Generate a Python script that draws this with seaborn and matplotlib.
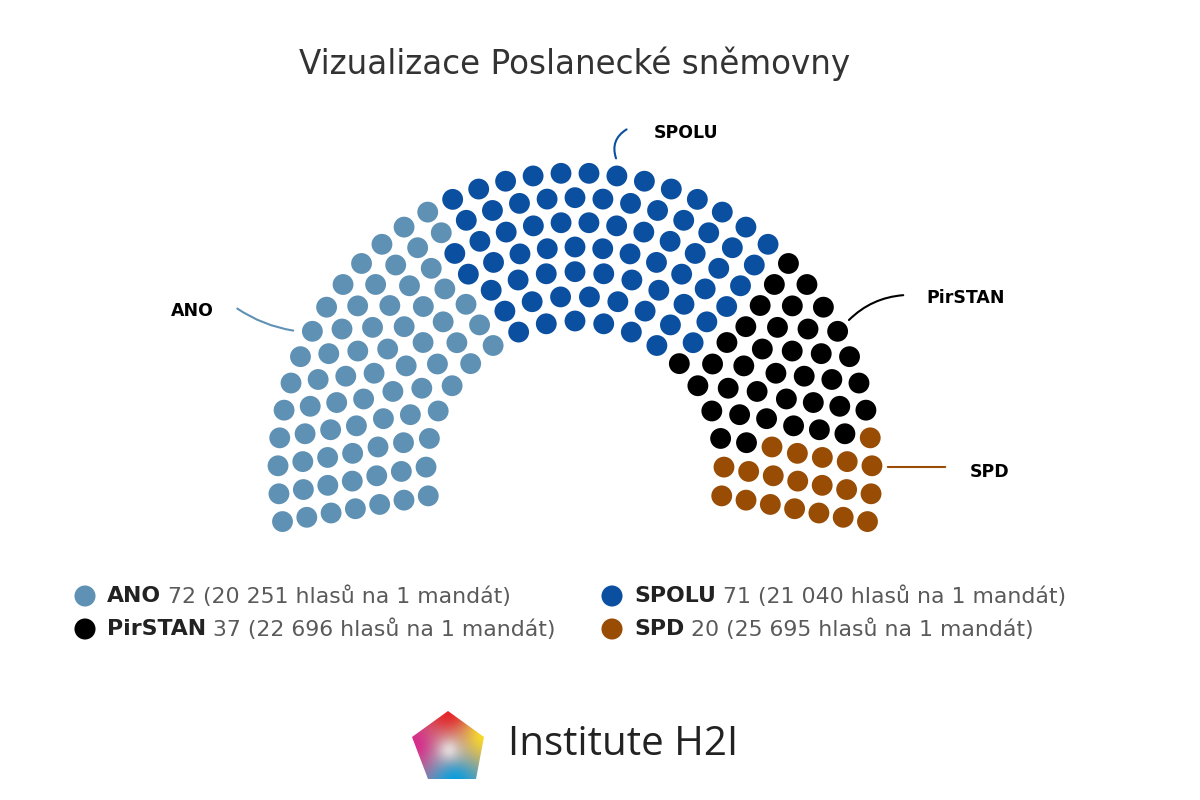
import numpy as np
import pandas as pd
import matplotlib.pyplot as plt
import seaborn as sns
from matplotlib.patches import Polygon

# Poslanecká sněmovna 2021, 200 mandátů
parties = ['ANO', 'SPOLU', 'PirSTAN', 'SPD']
seats = [72, 71, 37, 20]
votes_per_seat = ['20 251', '21 040', '22 696', '25 695']
colors = ['#5f91b4', '#0b4fa1', '#000000', '#994c03']


def seat_layout(total, n_rows=7, r_in=149, r_out=297, start=190, end=-10):
    radii = np.linspace(r_in, r_out, n_rows)
    share = radii / radii.sum() * total
    counts = np.floor(share).astype(int)
    rest = total - counts.sum()
    order = np.argsort(-(share - counts))
    counts[order[:rest]] += 1
    pts = []
    for r, n in zip(radii, counts):
        for a in np.linspace(start, end, n):
            pts.append((r, a))
    pts = pd.DataFrame(pts, columns=['r', 'angle'])
    # po uhlu zleva doprava
    pts = pts.sort_values(['angle', 'r'], ascending=[False, True]).reset_index(drop=True)
    return pts


def main():
    sns.set_theme(style='white')
    plt.rcParams['font.family'] = ['DejaVu Sans']

    cx, cy = 575, 470
    df = seat_layout(sum(seats))
    df['party'] = np.repeat(parties, seats)
    rad = np.deg2rad(df['angle'])
    df['x'] = cx + df['r'] * np.cos(rad)
    df['y'] = cy - df['r'] * np.sin(rad)

    fig = plt.figure(figsize=(12, 8), dpi=100)
    ax = fig.add_axes([0, 0, 1, 1])
    ax.set_xlim(0, 1200)
    ax.set_ylim(800, 0)
    ax.axis('off')

    sns.scatterplot(data=df, x='x', y='y', hue='party', palette=dict(zip(parties, colors)),
                    s=225, edgecolor='none', legend=False, ax=ax)

    ax.text(575, 64, 'Vizualizace Poslanecké sněmovny', ha='center', va='center',
            fontsize=23.5, color='#333333')

    # popisky s vodici carou
    labels = [
        ('ANO', (192, 311), (235, 307), (296, 331), 0.12),
        ('SPOLU', (686, 133), (629, 128), (617, 161), 0.45),
        ('PirSTAN', (966, 298), (906, 295), (847, 322), 0.2),
        ('SPD', (990, 472), (948, 467), (885, 467), 0.0),
    ]
    for (name, txt_pos, start, end, curve), col in zip(labels, colors):
        ax.text(*txt_pos, name, ha='center', va='center', fontsize=12.5,
                fontweight='semibold', color='black')
        ax.annotate('', xy=end, xytext=start,
                    arrowprops=dict(arrowstyle='-', color=col, lw=1.5,
                                    connectionstyle=f'arc3,rad={curve}'))

    # legenda
    leg_pos = [(85, 596), (612, 596), (85, 629), (612, 629)]
    for (lx, ly), name, n, v, col in zip(leg_pos, parties, seats, votes_per_seat, colors):
        ax.scatter(lx, ly, s=230, color=col, edgecolor='none')
        t = ax.text(lx + 22, ly, name, ha='left', va='center', fontsize=15.8,
                    fontweight='semibold', color='#222222')
        ax.annotate(f' {n} ({v} hlasů na 1 mandát)', xy=(1, 0.5), xycoords=t,
                    ha='left', va='center', fontsize=15.8, color='#5a5a5a')

    # logo
    pent = np.array([[448, 711], [484, 737], [476, 779], [428, 779], [412, 737]])
    gx, gy = np.meshgrid(np.linspace(408, 488, 80), np.linspace(708, 782, 80))
    anchors = [((448, 711), (0.90, 0.12, 0.15)), ((412, 745), (0.85, 0.15, 0.55)),
               ((486, 735), (0.99, 0.88, 0.15)), ((455, 782), (0.0, 0.62, 0.88)),
               ((449, 750), (0.97, 0.97, 0.97))]
    w_sum = np.zeros_like(gx)
    img = np.zeros(gx.shape + (3,))
    for (axp, ayp), c in anchors:
        w = 1.0 / ((gx - axp) ** 2 + (gy - ayp) ** 2 + 40.0)
        if c[0] > 0.95 and c[1] > 0.95:
            w = w * 0.35
        w_sum += w
        img += w[..., None] * np.array(c)
    img /= w_sum[..., None]
    im = ax.imshow(img, extent=(408, 488, 782, 708), zorder=2)
    clip = Polygon(pent, closed=True, transform=ax.transData, facecolor='none', edgecolor='none')
    ax.add_patch(clip)
    im.set_clip_path(clip)
    ax.set_xlim(0, 1200)
    ax.set_ylim(800, 0)
    ax.text(508, 745, 'Institute H2I', ha='left', va='center', fontsize=29,
            color='#222222', family=['Open Sans', 'DejaVu Sans'])

    fig.savefig('out.png', dpi=100, facecolor='white')


if __name__ == '__main__':
    main()
